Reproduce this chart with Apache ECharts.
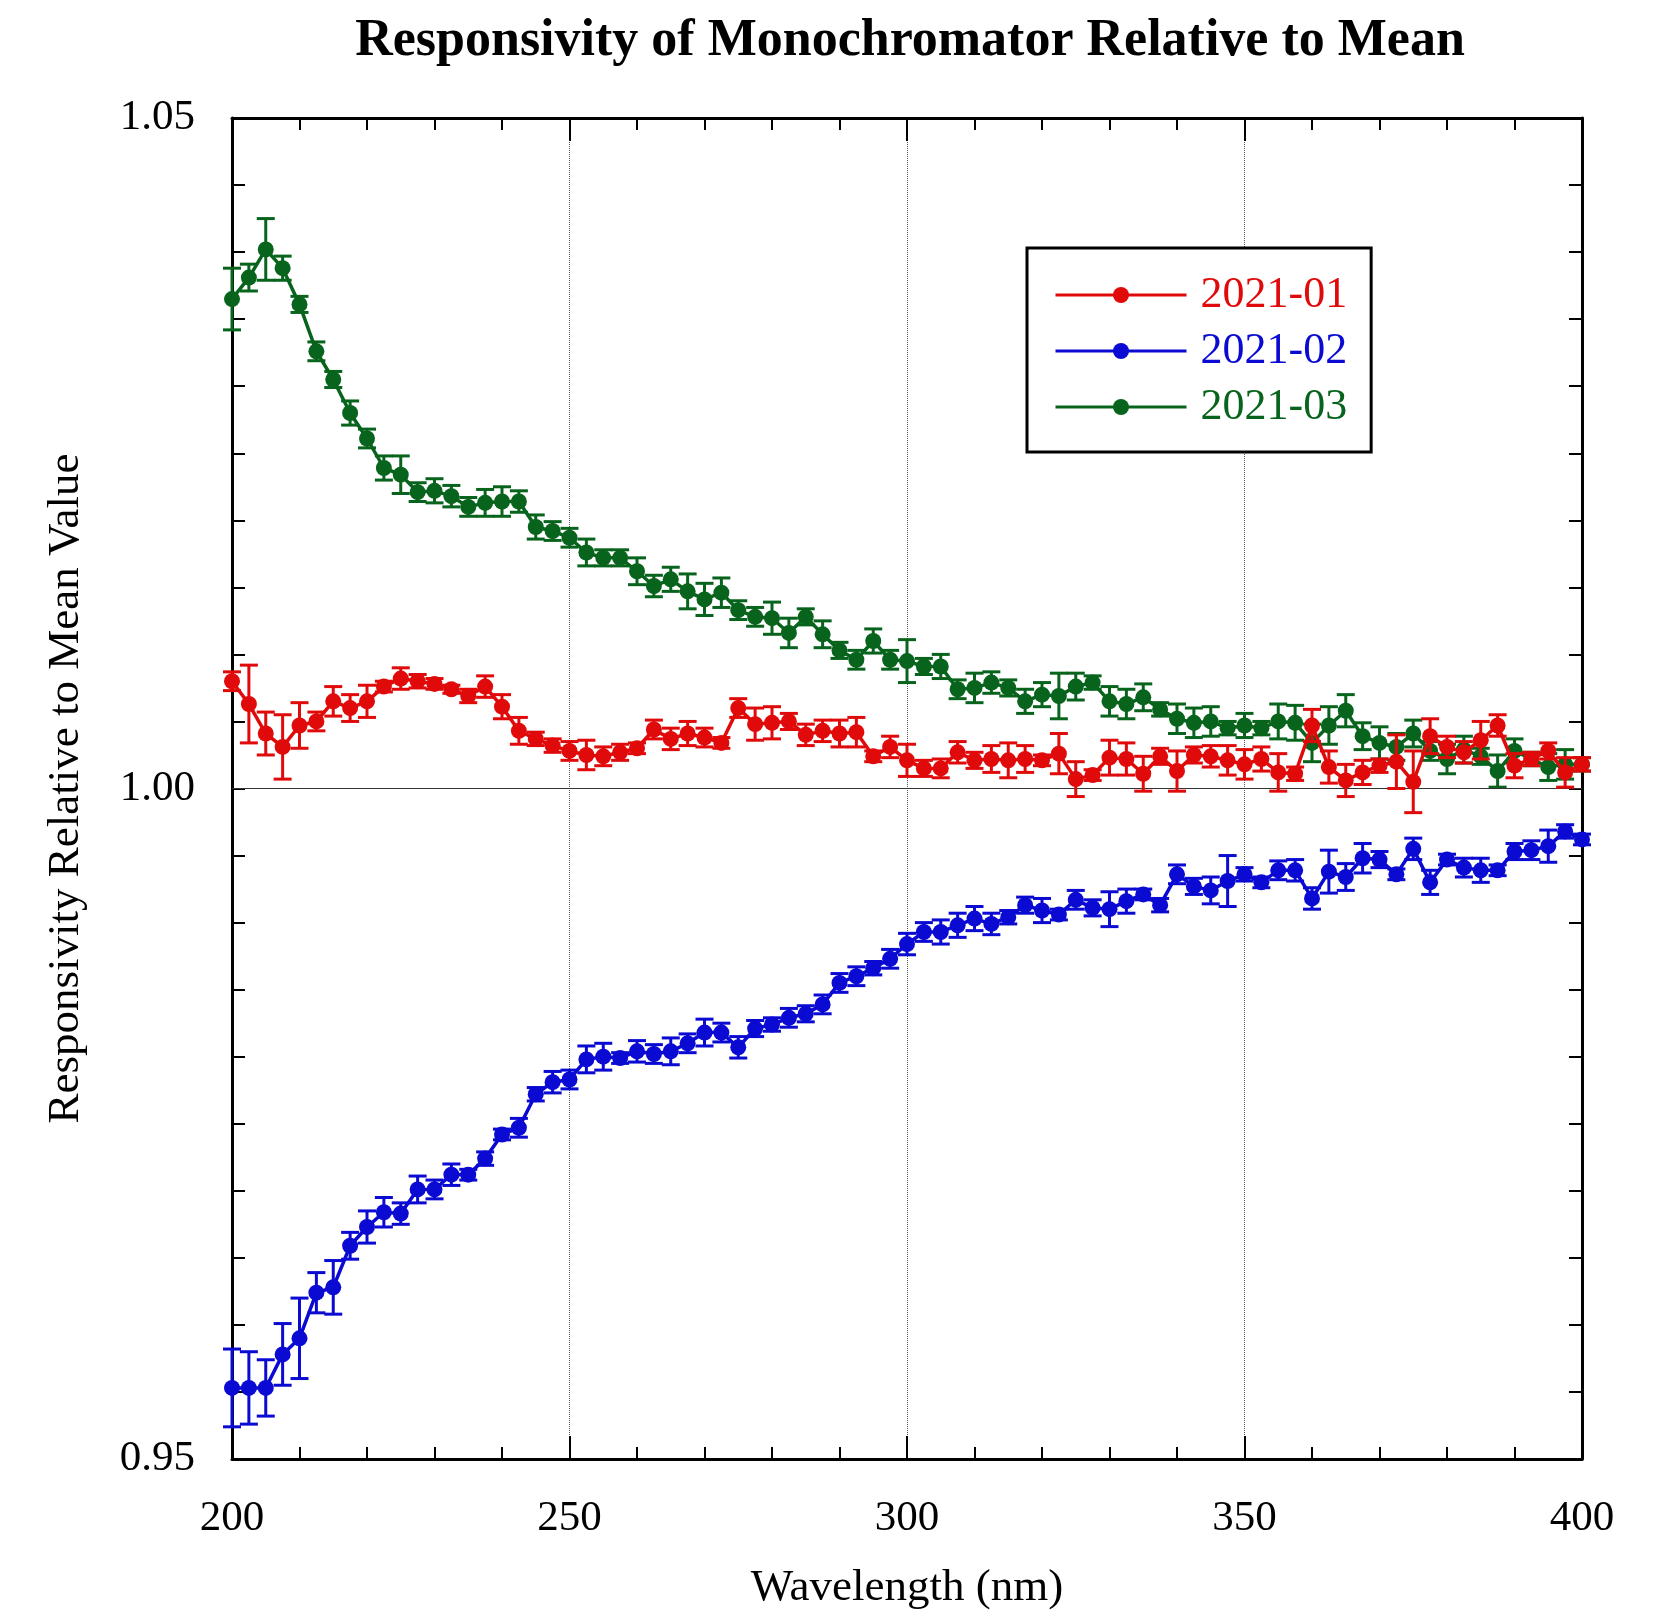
<!DOCTYPE html>
<html>
<head>
<meta charset="utf-8">
<script src="https://cdn.jsdelivr.net/npm/echarts@6/dist/echarts.min.js"></script>
<style>
  html, body { margin: 0; padding: 0; background: #fff; }
  #chart { width: 1655px; height: 1616px; }
</style>
</head>
<body>
<div id="chart"></div>
<script>
// wavelength (nm)
var wavelengths = [
  200, 202.5, 205, 207.5, 210, 212.5, 215, 217.5, 220, 222.5,
  225, 227.5, 230, 232.5, 235, 237.5, 240, 242.5, 245, 247.5,
  250, 252.5, 255, 257.5, 260, 262.5, 265, 267.5, 270, 272.5,
  275, 277.5, 280, 282.5, 285, 287.5, 290, 292.5, 295, 297.5,
  300, 302.5, 305, 307.5, 310, 312.5, 315, 317.5, 320, 322.5,
  325, 327.5, 330, 332.5, 335, 337.5, 340, 342.5, 345, 347.5,
  350, 352.5, 355, 357.5, 360, 362.5, 365, 367.5, 370, 372.5,
  375, 377.5, 380, 382.5, 385, 387.5, 390, 392.5, 395, 397.5, 400
];

var seriesNames = ['2021-01', '2021-02', '2021-03'];

var red = [
  1.0080, 1.0063, 1.0041, 1.0031, 1.0047, 1.0050, 1.0065, 1.0060, 1.0065, 1.0076,
  1.0082, 1.0080, 1.0078, 1.0074, 1.0069, 1.0076, 1.0061, 1.0043, 1.0037, 1.0032,
  1.0028, 1.0025, 1.0024, 1.0027, 1.0030, 1.0044, 1.0037, 1.0041, 1.0038, 1.0034,
  1.0060, 1.0048, 1.0049, 1.0050, 1.0040, 1.0043, 1.0041, 1.0042, 1.0024, 1.0031,
  1.0021, 1.0015, 1.0015, 1.0027, 1.0021, 1.0022, 1.0021, 1.0022, 1.0021, 1.0026,
  1.0007, 1.0010, 1.0023, 1.0022, 1.0011, 1.0024, 1.0013, 1.0025, 1.0024, 1.0021,
  1.0018, 1.0022, 1.0012, 1.0011, 1.0047, 1.0016, 1.0006, 1.0012, 1.0017, 1.0020,
  1.0005, 1.0039, 1.0031, 1.0027, 1.0036, 1.0047, 1.0017, 1.0022, 1.0028, 1.0012, 1.0018
];
var redErr = [
  0.0007, 0.0029, 0.0016, 0.0024, 0.0017, 0.0007, 0.0011, 0.0010, 0.0012, 0.0004,
  0.0008, 0.0005, 0.0004, 0.0003, 0.0005, 0.0008, 0.0009, 0.0010, 0.0005, 0.0005,
  0.0007, 0.0011, 0.0007, 0.0006, 0.0004, 0.0007, 0.0008, 0.0009, 0.0007, 0.0004,
  0.0007, 0.0012, 0.0012, 0.0006, 0.0008, 0.0008, 0.0010, 0.0011, 0.0004, 0.0008,
  0.0012, 0.0006, 0.0007, 0.0008, 0.0006, 0.0010, 0.0013, 0.0010, 0.0004, 0.0015,
  0.0013, 0.0004, 0.0013, 0.0012, 0.0013, 0.0006, 0.0015, 0.0006, 0.0008, 0.0011,
  0.0011, 0.0009, 0.0014, 0.0005, 0.0012, 0.0012, 0.0012, 0.0009, 0.0005, 0.0020,
  0.0023, 0.0013, 0.0008, 0.0008, 0.0014, 0.0008, 0.0009, 0.0005, 0.0006, 0.0011, 0.0005
];

var blue = [
  0.9553, 0.9553, 0.9553, 0.9578, 0.9590, 0.9624, 0.9628, 0.9659, 0.9673, 0.9684,
  0.9683, 0.9701, 0.9701, 0.9712, 0.9712, 0.9724, 0.9742, 0.9747, 0.9772, 0.9781,
  0.9783, 0.9798, 0.9800, 0.9799, 0.9804, 0.9802, 0.9804, 0.9810, 0.9818, 0.9818,
  0.9807, 0.9821, 0.9824, 0.9829, 0.9832, 0.9839, 0.9855, 0.9860, 0.9866, 0.9873,
  0.9884, 0.9893, 0.9893, 0.9898, 0.9903, 0.9899, 0.9904, 0.9913, 0.9909, 0.9906,
  0.9917, 0.9911, 0.9910, 0.9916, 0.9921, 0.9913, 0.9936, 0.9927, 0.9924, 0.9931,
  0.9936, 0.9930, 0.9939, 0.9939, 0.9918, 0.9938, 0.9934, 0.9948, 0.9947, 0.9936,
  0.9955, 0.9930, 0.9947, 0.9941, 0.9939, 0.9939, 0.9953, 0.9954, 0.9957, 0.9968, 0.9962
];
var blueErr = [
  0.0029, 0.0027, 0.0021, 0.0023, 0.0030, 0.0015, 0.0020, 0.0010, 0.0012, 0.0011,
  0.0008, 0.0010, 0.0007, 0.0008, 0.0004, 0.0005, 0.0004, 0.0007, 0.0005, 0.0008,
  0.0007, 0.0010, 0.0010, 0.0004, 0.0008, 0.0007, 0.0010, 0.0007, 0.0010, 0.0007,
  0.0008, 0.0006, 0.0005, 0.0007, 0.0006, 0.0007, 0.0007, 0.0007, 0.0005, 0.0007,
  0.0008, 0.0007, 0.0009, 0.0009, 0.0009, 0.0008, 0.0005, 0.0006, 0.0009, 0.0004,
  0.0007, 0.0006, 0.0013, 0.0009, 0.0004, 0.0005, 0.0007, 0.0006, 0.0010, 0.0019,
  0.0005, 0.0004, 0.0007, 0.0008, 0.0008, 0.0016, 0.0010, 0.0011, 0.0006, 0.0004,
  0.0008, 0.0009, 0.0004, 0.0007, 0.0009, 0.0004, 0.0006, 0.0007, 0.0012, 0.0005, 0.0004
];

var green = [
  1.0365, 1.0381, 1.0402, 1.0388, 1.0361, 1.0326, 1.0305, 1.0280, 1.0261, 1.0239,
  1.0234, 1.0221, 1.0222, 1.0218, 1.0210, 1.0213, 1.0214, 1.0214, 1.0195, 1.0192,
  1.0187, 1.0176, 1.0172, 1.0172, 1.0162, 1.0151, 1.0156, 1.0147, 1.0141, 1.0146,
  1.0133, 1.0128, 1.0127, 1.0116, 1.0128, 1.0115, 1.0103, 1.0096, 1.0110, 1.0096,
  1.0095, 1.0091, 1.0091, 1.0074, 1.0075, 1.0079, 1.0075, 1.0065, 1.0070, 1.0069,
  1.0076, 1.0079, 1.0065, 1.0063, 1.0068, 1.0059, 1.0052, 1.0049, 1.0050, 1.0045,
  1.0047, 1.0045, 1.0050, 1.0049, 1.0034, 1.0047, 1.0058, 1.0039, 1.0034, 1.0031,
  1.0041, 1.0028, 1.0022, 1.0029, 1.0024, 1.0013, 1.0028, 1.0022, 1.0016, 1.0018, 1.0018
];
var greenErr = [
  0.0023, 0.0010, 0.0023, 0.0009, 0.0006, 0.0007, 0.0006, 0.0009, 0.0007, 0.0009,
  0.0014, 0.0007, 0.0009, 0.0008, 0.0007, 0.0010, 0.0011, 0.0008, 0.0009, 0.0007,
  0.0007, 0.0010, 0.0006, 0.0006, 0.0010, 0.0008, 0.0009, 0.0013, 0.0012, 0.0011,
  0.0007, 0.0007, 0.0012, 0.0011, 0.0006, 0.0010, 0.0006, 0.0007, 0.0009, 0.0007,
  0.0016, 0.0006, 0.0009, 0.0007, 0.0011, 0.0008, 0.0006, 0.0009, 0.0009, 0.0017,
  0.0010, 0.0005, 0.0011, 0.0011, 0.0010, 0.0005, 0.0011, 0.0011, 0.0011, 0.0005,
  0.0009, 0.0005, 0.0013, 0.0013, 0.0014, 0.0014, 0.0012, 0.0010, 0.0012, 0.0010,
  0.0010, 0.0007, 0.0011, 0.0010, 0.0006, 0.0012, 0.0009, 0.0005, 0.0010, 0.0011, 0.0005
];

var colors = { red: '#e00a0a', blue: '#0a0ad2', green: '#08641c' };
var FONT = "'Liberation Serif', 'Times New Roman', serif";

var chart = echarts.init(document.getElementById('chart'));

function pts(vals) {
  return wavelengths.map(function (w, i) { return [w, vals[i]]; });
}
function errPts(vals, errs) {
  return wavelengths.map(function (w, i) { return [w, vals[i], errs[i]]; });
}

// error bars: vertical line with caps
function errorBar(color) {
  return function (params, api) {
    var x = api.value(0), y = api.value(1), e = api.value(2);
    var top = api.coord([x, y + e]);
    var bot = api.coord([x, y - e]);
    var hw = 9;
    var st = { stroke: color, lineWidth: 3 };
    return {
      type: 'group',
      children: [
        { type: 'line', shape: { x1: top[0], y1: top[1], x2: bot[0], y2: bot[1] }, style: st },
        { type: 'line', shape: { x1: top[0] - hw, y1: top[1], x2: top[0] + hw, y2: top[1] }, style: st },
        { type: 'line', shape: { x1: bot[0] - hw, y1: bot[1], x2: bot[0] + hw, y2: bot[1] }, style: st }
      ]
    };
  };
}

function lineSeries(name, vals, color, z) {
  return {
    name: name,
    type: 'line',
    data: pts(vals),
    symbol: 'circle',
    symbolSize: 16,
    z: z,
    lineStyle: { color: color, width: 3.5 },
    itemStyle: { color: color },
    emphasis: { disabled: true }
  };
}
function barSeries(name, vals, errs, color, z) {
  return {
    name: name,
    type: 'custom',
    data: errPts(vals, errs),
    encode: { x: 0, y: 1 },
    renderItem: errorBar(color),
    z: z,
    silent: true
  };
}

var blueLine = lineSeries(seriesNames[1], blue, colors.blue, 3);
blueLine.markLine = {
  silent: true,
  symbol: ['none', 'none'],
  label: { show: false },
  lineStyle: { color: '#333', width: 1.2, type: 'solid' },
  data: [{ yAxis: 1.0 }]
};

var option = {
  backgroundColor: '#fff',
  animation: false,
  title: {
    text: 'Responsivity of Monochromator Relative to Mean',
    left: 905,
    top: 11,
    textAlign: 'center',
    textStyle: { fontFamily: FONT, fontSize: 52, fontWeight: 'bold', color: '#000' }
  },
  legend: {
    orient: 'vertical',
    left: 1027,
    top: 248,
    itemWidth: 131,
    itemHeight: 20,
    itemGap: 10,
    padding: [24, 24, 22, 27],
    borderColor: '#000',
    borderWidth: 3,
    backgroundColor: '#fff',
    selectedMode: false,
    lineStyle: { width: 3 },
    textStyle: { fontFamily: FONT, fontSize: 44, lineHeight: 46, padding: [0, 0, 0, 9] },
    data: [
      { name: seriesNames[0], textStyle: { color: colors.red } },
      { name: seriesNames[1], textStyle: { color: colors.blue } },
      { name: seriesNames[2], textStyle: { color: colors.green } }
    ]
  },
  grid: { left: 232, right: 73, top: 118, bottom: 148, containLabel: false },
  xAxis: [
    {
      type: 'value',
      min: 200, max: 400, interval: 50,
      name: 'Wavelength (nm)',
      nameLocation: 'middle',
      nameGap: 107,
      nameTextStyle: { fontFamily: FONT, fontSize: 45, color: '#000' },
      axisLine: { show: true, onZero: false, lineStyle: { color: '#000', width: 3 } },
      axisTick: { show: true, inside: true, length: 23, lineStyle: { color: '#000', width: 2 } },
      minorTick: { show: true, splitNumber: 5, length: 12, lineStyle: { color: '#000', width: 2 } },
      axisLabel: { fontFamily: FONT, fontSize: 43, color: '#000', margin: 38 },
      splitLine: { show: true, lineStyle: { color: '#555', width: 1, type: 'dotted' } }
    },
    {
      type: 'value',
      position: 'top',
      min: 200, max: 400, interval: 50,
      axisLine: { show: true, onZero: false, lineStyle: { color: '#000', width: 3 } },
      axisTick: { show: true, inside: true, length: 23, lineStyle: { color: '#000', width: 2 } },
      minorTick: { show: true, splitNumber: 5, length: 12, lineStyle: { color: '#000', width: 2 } },
      axisLabel: { show: false },
      splitLine: { show: false }
    }
  ],
  yAxis: [
    {
      type: 'value',
      min: 0.95, max: 1.05, interval: 0.005,
      name: 'Responsivity Relative to Mean Value',
      nameLocation: 'middle',
      nameGap: 143,
      nameTextStyle: { fontFamily: FONT, fontSize: 45, color: '#000' },
      axisLine: { show: true, onZero: false, lineStyle: { color: '#000', width: 3 } },
      axisTick: { show: true, inside: true, length: 13, lineStyle: { color: '#000', width: 2 } },
      axisLabel: {
        fontFamily: FONT, fontSize: 43, color: '#000', margin: 37,
        padding: [0, 0, 8, 0],
        showMinLabel: true, showMaxLabel: true,
        formatter: function (v) {
          var r = Math.round(v * 1000);
          return r % 50 === 0 ? (r / 1000).toFixed(2) : '';
        }
      },
      splitLine: { show: false }
    },
    {
      type: 'value',
      position: 'right',
      min: 0.95, max: 1.05, interval: 0.005,
      axisLine: { show: true, onZero: false, lineStyle: { color: '#000', width: 3 } },
      axisTick: { show: true, inside: true, length: 13, lineStyle: { color: '#000', width: 2 } },
      axisLabel: { show: false },
      splitLine: { show: false }
    }
  ],
  series: [
    barSeries('err-02', blue, blueErr, colors.blue, 2),
    blueLine,
    barSeries('err-03', green, greenErr, colors.green, 4),
    lineSeries(seriesNames[2], green, colors.green, 5),
    barSeries('err-01', red, redErr, colors.red, 6),
    lineSeries(seriesNames[0], red, colors.red, 7)
  ]
};

chart.setOption(option);
</script>
</body>
</html>
